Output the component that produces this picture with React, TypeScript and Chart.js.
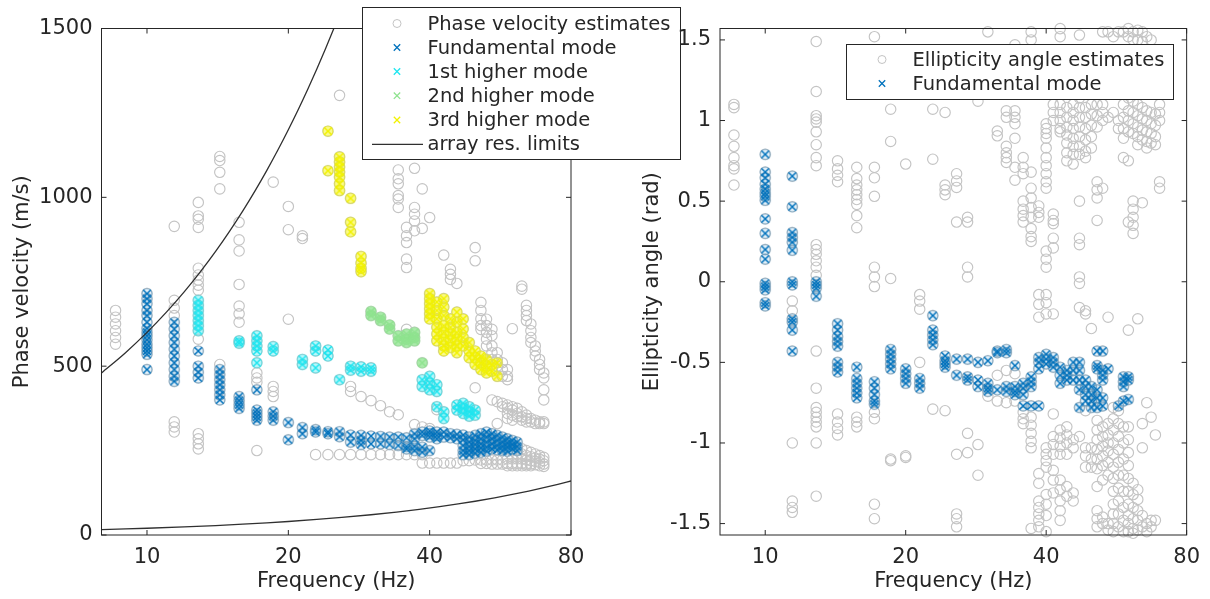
import React, { useEffect, useRef } from 'react';
import { Chart, registerables } from 'chart.js';

Chart.register(...registerables);

// ---------------- data ----------------
const freqTicks = [10, 20, 40, 80];
const freqRange = [8, 80];
const velocityTicks = [0, 500, 1000, 1500];
const velocityRange = [0, 1500];
const ellipticityTicks = [-1.5, -1, -0.5, 0, 0.5, 1, 1.5];
const ellipticityRange = [-1.5708, 1.5708];

type Column = [number, number[]];

// phase velocity estimates (m/s) not assigned to a mode, per frequency (Hz)
const pvOther: Column[] = [
  [8.57, [665, 645, 625, 605, 585, 565]],
  [11.43, [914, 695, 672, 650, 335, 320, 305]],
  [12.86, [985, 945, 935, 911, 790, 770, 755, 740, 725, 580, 300, 285, 270, 255]],
  [14.29, [1121, 1109, 1074, 1025, 505]],
  [15.71, [926, 874, 841, 742, 678, 655, 630]],
  [17.14, [480, 465, 452, 250]],
  [18.57, [1045, 440, 425, 410]],
  [20, [973, 904, 639]],
  [21.43, [886, 878]],
  [22.86, [238]],
  [24.29, [238]],
  [25.71, [1302, 238]],
  [27.14, [440, 425, 238]],
  [28.57, [410, 238]],
  [30, [398, 238]],
  [31.43, [383, 238]],
  [32.86, [365, 238]],
  [34.29, [1081, 1055, 1040, 1005, 995, 970, 356, 238]],
  [35.71, [911, 886, 866, 817, 792, 609, 238]],
  [37.14, [1086, 970, 950, 930, 901, 327, 238]],
  [38.57, [1025, 908, 320, 238, 213]],
  [40, [940, 315, 213]],
  [41.43, [371, 213]],
  [42.86, [829, 213]],
  [44.29, [787, 772, 757, 213]],
  [45.71, [745, 213]],
  [47.14, [220]],
  [48.57, [220]],
  [50, [851, 812, 436, 222]],
  [51.43, [689, 665, 640, 620, 609, 222, 212]],
  [52.86, [639, 620, 600, 580, 560, 222, 212]],
  [54.29, [609, 590, 560, 540, 520, 400, 222, 210]],
  [55.71, [540, 520, 500, 395, 330, 222, 210]],
  [57.14, [510, 490, 470, 390, 380, 222, 210]],
  [58.57, [490, 470, 460, 385, 375, 360, 345, 225, 212, 205]],
  [60, [611, 380, 370, 355, 340, 225, 212, 205]],
  [61.43, [375, 360, 350, 260, 240, 225, 212, 205]],
  [62.86, [737, 728, 365, 350, 340, 255, 240, 225, 212, 205]],
  [64.29, [680, 665, 650, 635, 355, 345, 335, 250, 235, 222, 210, 205]],
  [65.71, [625, 605, 585, 570, 345, 335, 245, 232, 220, 210, 205]],
  [67.14, [560, 545, 530, 340, 330, 240, 228, 218, 208]],
  [68.57, [520, 505, 490, 335, 330, 235, 225, 215, 205]],
  [70, [480, 465, 430, 400, 335, 330, 230, 220, 210, 203]],
];

const pvFundamental: Column[] = [
  [10, [715, 700, 685, 665, 650, 630, 612, 600, 590, 578, 565, 555, 545, 535, 490]],
  [11.43, [630, 610, 590, 570, 550, 530, 510, 490, 470, 455]],
  [12.86, [545, 500, 482, 465]],
  [14.29, [490, 475, 460, 445, 430, 415, 400]],
  [15.71, [410, 398, 386, 375]],
  [17.14, [430, 370, 360, 350, 340]],
  [18.57, [365, 352, 340]],
  [20, [333, 282]],
  [21.43, [318, 300]],
  [22.86, [312, 305]],
  [24.29, [306, 300]],
  [25.71, [306, 291]],
  [27.14, [296, 275]],
  [28.57, [295, 280, 268]],
  [30, [293, 270]],
  [31.43, [292, 270]],
  [32.86, [290, 268]],
  [34.29, [290, 265]],
  [35.71, [288, 262, 255]],
  [37.14, [300, 285, 262, 250]],
  [38.57, [305, 295, 260, 245]],
  [40, [308, 300, 290, 250]],
  [41.43, [305, 295, 285]],
  [42.86, [305, 290]],
  [44.29, [300, 288]],
  [45.71, [298, 285]],
  [47.14, [296, 282, 265, 250, 238]],
  [48.57, [290, 275, 262, 250, 238]],
  [50, [295, 280, 268, 255, 242]],
  [51.43, [300, 285, 270, 258, 245]],
  [52.86, [305, 290, 275, 260, 248]],
  [54.29, [300, 285, 270, 255]],
  [55.71, [295, 280, 265, 252]],
  [57.14, [290, 275, 262, 250]],
  [58.57, [285, 272, 260, 248]],
  [60, [280, 268, 255]],
  [61.43, [275, 262, 250]],
];

const pvFirstHigher: Column[] = [
  [12.86, [695, 680, 665, 650, 635, 620, 605]],
  [15.71, [575, 568]],
  [17.14, [590, 575, 560, 545, 510]],
  [18.57, [558, 545]],
  [21.43, [520, 505]],
  [22.86, [560, 545, 495]],
  [24.29, [548, 530]],
  [25.71, [460]],
  [27.14, [500, 488]],
  [28.57, [498, 485]],
  [30, [495, 485]],
  [38.57, [460, 440]],
  [40, [470, 450, 430]],
  [41.43, [445, 425, 380]],
  [42.86, [365, 345]],
  [45.71, [385, 370]],
  [47.14, [390, 375, 360]],
  [48.57, [380, 365, 352]],
  [50, [370, 355]],
];

const pvSecondHigher: Column[] = [
  [30, [662, 650]],
  [31.43, [645, 635]],
  [32.86, [622, 610]],
  [34.29, [590, 575]],
  [35.71, [595, 580, 570]],
  [37.14, [600, 585, 575]],
  [38.57, [510]],
];

const pvThirdHigher: Column[] = [
  [24.29, [1196, 1079]],
  [25.71, [1120, 1105, 1090, 1075, 1060, 1040, 1020]],
  [27.14, [997, 926, 898]],
  [28.57, [825, 805, 790, 780]],
  [40, [715, 700, 685, 670, 655, 640]],
  [41.43, [690, 665, 640, 615, 595, 575]],
  [42.86, [700, 675, 650, 620, 600, 580, 560, 545]],
  [44.29, [640, 615, 595, 575, 555]],
  [45.71, [660, 630, 600, 580, 560, 540]],
  [47.14, [640, 610, 585, 560]],
  [48.57, [570, 545, 525]],
  [50, [545, 525, 505]],
  [51.43, [530, 510, 490]],
  [52.86, [520, 500, 480]],
  [54.29, [505, 485]],
  [55.71, [510, 470]],
];

// array resolution limits (m/s)
const limitUpperFreq = [8, 9, 10, 11, 12, 13, 14, 15, 16, 17, 18, 19, 20, 21, 22, 23, 24, 25, 26];
const limitUpperVel = [480, 540, 600, 660, 720, 780, 840, 900, 960, 1020, 1080, 1140, 1200, 1260, 1320, 1380, 1440, 1500, 1560];
const limitLowerFreq = [8, 9, 10, 12, 14, 16, 18, 20, 23, 26, 30, 34, 38, 42, 46, 50, 55, 60, 65, 70, 75, 80];
const limitLowerVel = [16, 18, 20, 24, 28, 32, 36, 40, 46, 52, 60, 68, 76, 84, 92, 100, 110, 120, 130, 140, 150, 160];

// ellipticity angle estimates (rad)
const ellOther: Column[] = [
  [8.57, [1.1, 1.08, 0.91, 0.84, 0.77, 0.72, 0.7, 0.6]],
  [11.43, [-0.12, -0.18, -1.0, -1.36, -1.4, -1.43]],
  [12.86, [1.49, 1.18, 1.03, 1.01, 0.99, 0.93, 0.85, 0.77, 0.72, 0.23, 0.2, 0.17, 0.13, 0.09, 0.04, -0.43, -0.66, -0.78, -0.81, -0.84, -0.87, -0.9, -1.0, -1.33]],
  [14.29, [0.75, 0.7, 0.66, 0.62, -0.82, -0.87, -0.91, -0.95]],
  [15.71, [0.71, 0.64, 0.6, 0.57, 0.54, 0.51, 0.48, 0.41, 0.335, -0.84, -0.87, -0.9]],
  [17.14, [1.52, 0.71, 0.645, 0.53, 0.09, 0.03, -0.03, -0.81, -0.85, -1.38, -1.47]],
  [18.57, [1.07, 0.87, 0.02, -1.1, -1.11]],
  [20, [0.73, -1.08, -1.09]],
  [21.43, [-0.08, -0.12, -0.17, -0.5]],
  [22.86, [1.07, 0.76, -0.79]],
  [24.29, [1.05, 0.6, 0.57, 0.54, -0.8]],
  [25.71, [0.67, 0.625, 0.585, 0.37, -1.07, -1.44, -1.47, -1.52]],
  [27.14, [0.4, 0.37, 0.09, 0.03, -0.94, -1.06]],
  [28.57, [1.12, -1.01, -1.2]],
  [30, [1.55, -0.71]],
  [31.43, [0.935, 0.905, -0.58, -0.74]],
  [32.86, [1.06, 1.02, 0.84, 0.8, 0.77, 0.74, -0.55, -0.75]],
  [34.29, [1.47, 1.06, 1.02, 0.98, 0.89, 0.71, 0.63, -0.57, -0.74]],
  [35.71, [0.77, 0.71, 0.67, 0.5, 0.45, 0.41, 0.37, -0.81, -0.85, -0.88]],
  [37.14, [1.55, 1.5, 0.68, 0.58, 0.52, 0.46, 0.4, 0.33, 0.28, 0.25, -0.84, -0.89, -0.94, -0.99, -1.03, -1.53]],
  [38.57, [0.47, 0.43, 0.4, -0.08, -0.14, -0.22, -1.19, -1.25, -1.36, -1.4, -1.44, -1.48, -1.52]],
  [40, [0.98, 0.95, 0.92, 0.89, 0.83, 0.77, 0.72, 0.67, 0.62, 0.58, 0.19, 0.14, 0.09, -0.08, -0.13, -0.2, -1.03, -1.07, -1.11, -1.15, -1.32, -1.38, -1.45, -1.55]],
  [41.43, [1.1, 1.05, 1.0, 0.42, 0.38, 0.36, 0.27, 0.21, -0.2, -0.82, -0.96, -1.01, -1.07, -1.17, -1.23, -1.31]],
  [42.86, [1.57, 1.52, 1.1, 1.05, 1.0, 0.95, 0.93, -0.92, -0.97, -1.02, -1.07, -1.23, -1.29, -1.36, -1.42, -1.48]],
  [44.29, [1.08, 1.02, 0.96, 0.91, 0.86, 0.8, 0.75, -0.9, -0.95, -1.0, -1.07, -1.27, -1.33]],
  [45.71, [1.1, 1.05, 1.0, 0.95, 0.89, 0.84, 0.79, 0.73, -0.98, -1.03, -1.31, -1.36]],
  [47.14, [1.53, 1.14, 1.08, 1.02, 0.96, 0.9, 0.84, 0.79, 0.5, 0.27, 0.23, 0.03, -0.01, -0.16, -0.96]],
  [48.57, [1.08, 1.02, 0.95, 0.88, 0.81, 0.77, -0.18, -0.2, -0.8, -1.03, -1.08, -1.15]],
  [50, [1.1, 1.04, 0.97, 0.9, 0.83, -0.29, -1.03, -1.1, -1.15]],
  [51.43, [1.1, 1.03, 0.96, 0.62, 0.57, 0.52, 0.38, -0.86, -0.92, -0.98, -1.04, -1.1, -1.16, -1.27, -1.42, -1.47, -1.52]],
  [52.86, [1.55, 1.1, 1.05, 1.0, 0.58, -0.9, -0.96, -1.02, -1.08, -1.14, -1.23, -1.46, -1.5]],
  [54.29, [1.55, 1.02, -0.22, -0.88, -0.95, -1.0, -1.05, -1.12, -1.2, -1.5, -1.54]],
  [55.71, [1.52, 1.05, -0.78, -0.85, -0.92, -1.0, -1.07, -1.15, -1.22, -1.3, -1.38, -1.44, -1.5, -1.55]],
  [57.14, [1.55, 1.0, 0.95, -0.8, -0.88, -0.96, -1.04, -1.12, -1.2, -1.28, -1.36, -1.44, -1.52]],
  [58.57, [1.55, 1.1, 1.02, 0.95, 0.89, 0.77, -0.9, -1.0, -1.1, -1.2, -1.3, -1.4, -1.48, -1.55]],
  [60, [1.57, 1.52, 1.14, 1.06, 1.0, 0.93, 0.75, 0.37, -0.3, -0.9, -0.98, -1.06, -1.14, -1.22, -1.3, -1.38, -1.45, -1.5, -1.55]],
  [61.43, [1.55, 1.5, 1.12, 1.05, 0.98, 0.92, 0.5, 0.45, 0.4, 0.35, 0.3, -1.25, -1.32, -1.4, -1.47, -1.53, -1.56]],
  [62.86, [1.56, 1.5, 1.1, 1.03, 0.96, 0.9, 0.85, -0.23, -1.29, -1.35, -1.42, -1.48, -1.54]],
  [64.29, [1.55, 1.49, 1.08, 1.01, 0.94, 0.88, 0.49, -0.88, -1.03, -1.45, -1.52]],
  [65.71, [1.52, 1.06, 1.0, 0.93, 0.87, 0.83, -0.75, -1.5, -1.55]],
  [67.14, [1.5, 1.05, 0.98, 0.92, 0.86, -0.84, -1.48, -1.52]],
  [68.57, [1.04, 0.97, 0.9, 0.85, -0.95, -1.48]],
  [70, [1.1, 1.05, 1.0, 0.62, 0.58]],
];

const ellFundamental: Column[] = [
  [10, [0.79, 0.68, 0.645, 0.605, 0.575, 0.55, 0.53, 0.505, 0.39, 0.3, 0.2, 0.14, -0.01, -0.03, -0.05, -0.13, -0.15]],
  [11.43, [0.655, 0.465, 0.305, 0.275, 0.245, 0.195, 0.0, -0.02, -0.23, -0.25, -0.3, -0.43]],
  [12.86, [0.0, -0.02, -0.04, -0.09]],
  [14.29, [-0.26, -0.3, -0.34, -0.37, -0.4, -0.5, -0.53, -0.56]],
  [15.71, [-0.53, -0.6, -0.63, -0.66, -0.69, -0.72]],
  [17.14, [-0.62, -0.66, -0.7, -0.74, -0.76]],
  [18.57, [-0.42, -0.45, -0.48, -0.51, -0.54]],
  [20, [-0.54, -0.57, -0.6, -0.63]],
  [21.43, [-0.6, -0.63, -0.66]],
  [22.86, [-0.21, -0.3, -0.33, -0.36, -0.39]],
  [24.29, [-0.46, -0.49, -0.51, -0.53]],
  [25.71, [-0.48, -0.58]],
  [27.14, [-0.48, -0.59, -0.61]],
  [28.57, [-0.5, -0.61, -0.65]],
  [30, [-0.49, -0.63, -0.66, -0.68]],
  [31.43, [-0.43, -0.44, -0.67]],
  [32.86, [-0.42, -0.44, -0.65, -0.68]],
  [34.29, [-0.52, -0.65, -0.68, -0.7]],
  [35.71, [-0.63, -0.66, -0.7, -0.77]],
  [37.14, [-0.59, -0.62, -0.65, -0.77]],
  [38.57, [-0.47, -0.5, -0.54, -0.77]],
  [40, [-0.45, -0.48, -0.51]],
  [41.43, [-0.47, -0.5, -0.53]],
  [42.86, [-0.53, -0.58, -0.63]],
  [44.29, [-0.55, -0.58, -0.61]],
  [45.71, [-0.5, -0.55, -0.61]],
  [47.14, [-0.5, -0.55, -0.61, -0.67, -0.78]],
  [48.57, [-0.61, -0.65, -0.7, -0.74]],
  [50, [-0.65, -0.7, -0.74, -0.78]],
  [51.43, [-0.43, -0.52, -0.54, -0.67, -0.72, -0.78]],
  [52.86, [-0.43, -0.55, -0.58, -0.61, -0.72, -0.77]],
  [54.29, [-0.54]],
  [57.14, [-0.77]],
  [58.57, [-0.59, -0.62, -0.65, -0.74]],
  [60, [-0.59, -0.61, -0.73]],
];

// ---------------- styling ----------------
const FONT = '"DejaVu Sans", "Liberation Sans", sans-serif';
const AXIS_COLOR = '#262626';
const EST_GRAY = '#c4c4c4';
const BLUE = '#0072BD';
const CYAN = '#1fe6f0';
const GREEN = '#8fe38f';
const YELLOW = '#f2f200';

const toPoints = (cols: Column[]) => cols.flatMap(([f, vs]) => vs.map((v) => ({ x: f, y: v })));

function makeModeMarker(color: string, ringAlpha: number, fillAlpha: number) {
  const c = document.createElement('canvas');
  c.width = 16;
  c.height = 16;
  const g = c.getContext('2d')!;
  g.beginPath();
  g.arc(8, 8, 5, 0, Math.PI * 2);
  g.globalAlpha = fillAlpha;
  g.fillStyle = color;
  g.fill();
  g.globalAlpha = ringAlpha;
  g.strokeStyle = color;
  g.lineWidth = 1.1;
  g.stroke();
  g.globalAlpha = 1;
  g.lineWidth = 1.5;
  g.beginPath();
  g.moveTo(4.2, 4.2);
  g.lineTo(11.8, 11.8);
  g.moveTo(11.8, 4.2);
  g.lineTo(4.2, 11.8);
  g.stroke();
  return c;
}

type LegendEntry = { label: string; kind: 'circle' | 'cross' | 'line'; color: string };

function legendPlugin(
  box: [number, number, number, number],
  entries: LegendEntry[],
  rowY: number[],
  symX: number,
  textX: number,
  lineX: [number, number]
) {
  return {
    id: 'customLegend',
    afterDraw(chart: any) {
      const ctx: CanvasRenderingContext2D = chart.ctx;
      ctx.save();
      const [x1, y1, x2, y2] = box;
      ctx.fillStyle = '#ffffff';
      ctx.fillRect(x1, y1, x2 - x1, y2 - y1);
      ctx.strokeStyle = AXIS_COLOR;
      ctx.lineWidth = 1;
      ctx.strokeRect(x1, y1, x2 - x1, y2 - y1);
      ctx.font = `19.5px ${FONT}`;
      ctx.textBaseline = 'middle';
      ctx.textAlign = 'left';
      entries.forEach((e, i) => {
        const y = rowY[i];
        ctx.strokeStyle = e.color;
        if (e.kind === 'circle') {
          ctx.lineWidth = 1;
          ctx.beginPath();
          ctx.arc(symX, y, 4, 0, Math.PI * 2);
          ctx.stroke();
        } else if (e.kind === 'cross') {
          ctx.lineWidth = 1.3;
          ctx.beginPath();
          ctx.moveTo(symX - 3.2, y - 3.2);
          ctx.lineTo(symX + 3.2, y + 3.2);
          ctx.moveTo(symX + 3.2, y - 3.2);
          ctx.lineTo(symX - 3.2, y + 3.2);
          ctx.stroke();
        } else {
          ctx.lineWidth = 1.3;
          ctx.beginPath();
          ctx.moveTo(lineX[0], y);
          ctx.lineTo(lineX[1], y);
          ctx.stroke();
        }
        ctx.fillStyle = AXIS_COLOR;
        ctx.fillText(e.label, textX, y + 1);
      });
      ctx.restore();
    },
  };
}

const boxPlugin = {
  id: 'matlabBox',
  afterDatasetsDraw(chart: any) {
    const ctx: CanvasRenderingContext2D = chart.ctx;
    const a = chart.chartArea;
    const xs = chart.scales.x;
    const ys = chart.scales.y;
    const tl = 5;
    ctx.save();
    ctx.strokeStyle = AXIS_COLOR;
    ctx.lineWidth = 1;
    ctx.strokeRect(a.left, a.top, a.right - a.left, a.bottom - a.top);
    ctx.beginPath();
    xs.ticks.forEach((t: any) => {
      const px = xs.getPixelForValue(t.value);
      ctx.moveTo(px, a.bottom);
      ctx.lineTo(px, a.bottom - tl);
      ctx.moveTo(px, a.top);
      ctx.lineTo(px, a.top + tl);
    });
    ys.ticks.forEach((t: any) => {
      const py = ys.getPixelForValue(t.value);
      ctx.moveTo(a.left, py);
      ctx.lineTo(a.left + tl, py);
      ctx.moveTo(a.right, py);
      ctx.lineTo(a.right - tl, py);
    });
    ctx.stroke();
    ctx.restore();
  },
};

const tickFont = { family: FONT, size: 21 };

function xScale() {
  return {
    type: 'logarithmic' as const,
    min: freqRange[0],
    max: freqRange[1],
    afterFit: (s: any) => {
      s.height = 64;
    },
    afterBuildTicks: (s: any) => {
      s.ticks = freqTicks.map((v) => ({ value: v }));
    },
    grid: { display: false, drawTicks: false },
    border: { display: false },
    ticks: {
      autoSkip: false,
      maxRotation: 0,
      padding: 10,
      color: AXIS_COLOR,
      font: tickFont,
      callback: (v: any) => String(v),
    },
    title: {
      display: true,
      text: 'Frequency (Hz)',
      color: AXIS_COLOR,
      font: tickFont,
      padding: { top: 0, bottom: 5 },
    },
  };
}

function yScale(range: number[], ticks: number[], width: number, title: string, titlePad: number) {
  return {
    type: 'linear' as const,
    min: range[0],
    max: range[1],
    afterFit: (s: any) => {
      s.width = width;
    },
    afterBuildTicks: (s: any) => {
      s.ticks = ticks.map((v) => ({ value: v }));
    },
    grid: { display: false, drawTicks: false },
    border: { display: false },
    ticks: {
      padding: 9,
      color: AXIS_COLOR,
      font: tickFont,
      callback: (v: any) => String(v),
    },
    title: {
      display: true,
      text: title,
      color: AXIS_COLOR,
      font: tickFont,
      padding: { top: titlePad, bottom: 0 },
    },
  };
}

const estimateStyle = {
  pointStyle: 'circle' as const,
  pointRadius: 5.2,
  pointBorderWidth: 1.15,
  pointBorderColor: EST_GRAY,
  pointBackgroundColor: 'rgba(0,0,0,0)',
  showLine: false,
  clip: false as const,
};

function modeDataset(label: string, cols: Column[], marker: HTMLCanvasElement, order: number) {
  return {
    label,
    data: toPoints(cols),
    pointStyle: marker,
    pointRadius: 5,
    showLine: false,
    clip: false as const,
    order,
  };
}

function limitDataset(freqs: number[], vels: number[]) {
  return {
    label: 'array res. limits',
    data: freqs.map((f, i) => ({ x: f, y: vels[i] })),
    showLine: true,
    pointRadius: 0,
    borderColor: '#303030',
    borderWidth: 1.3,
    cubicInterpolationMode: 'monotone' as const,
    order: 0,
  };
}

export default function App() {
  const leftRef = useRef<HTMLCanvasElement>(null);
  const rightRef = useRef<HTMLCanvasElement>(null);

  useEffect(() => {
    document.body.style.margin = '0';
    const blueMarker = makeModeMarker(BLUE, 0.35, 0.1);
    const cyanMarker = makeModeMarker(CYAN, 0.55, 0.3);
    const greenMarker = makeModeMarker(GREEN, 0.8, 0.75);
    const yellowMarker = makeModeMarker(YELLOW, 0.6, 0.45);

    const left = new Chart(leftRef.current!, {
      type: 'scatter',
      data: {
        datasets: [
          {
            label: 'Phase velocity estimates',
            data: [
              ...toPoints(pvOther),
              ...toPoints(pvFundamental),
              ...toPoints(pvFirstHigher),
              ...toPoints(pvSecondHigher),
              ...toPoints(pvThirdHigher),
            ],
            ...estimateStyle,
            order: 10,
          },
          modeDataset('3rd higher mode', pvThirdHigher, yellowMarker, 4),
          modeDataset('2nd higher mode', pvSecondHigher, greenMarker, 3),
          modeDataset('1st higher mode', pvFirstHigher, cyanMarker, 2),
          modeDataset('Fundamental mode', pvFundamental, blueMarker, 1),
          limitDataset(limitUpperFreq, limitUpperVel),
          limitDataset(limitLowerFreq, limitLowerVel),
        ] as any,
      },
      options: {
        responsive: false,
        animation: false,
        events: [],
        layout: { padding: { left: 0, top: 28.5, right: 129, bottom: 0 } },
        plugins: { legend: { display: false }, tooltip: { enabled: false } },
        scales: {
          x: xScale(),
          y: yScale(velocityRange, velocityTicks, 101.5, 'Phase velocity (m/s)', 9.5),
        } as any,
      },
      plugins: [
        boxPlugin,
        legendPlugin(
          [362.5, 7.5, 680.5, 159.5],
          [
            { label: 'Phase velocity estimates', kind: 'circle', color: EST_GRAY },
            { label: 'Fundamental mode', kind: 'cross', color: BLUE },
            { label: '1st higher mode', kind: 'cross', color: CYAN },
            { label: '2nd higher mode', kind: 'cross', color: GREEN },
            { label: '3rd higher mode', kind: 'cross', color: YELLOW },
            { label: 'array res. limits', kind: 'line', color: '#303030' },
          ],
          [23.5, 47.5, 71.5, 95.7, 120, 144.3],
          397,
          427.5,
          [372, 423]
        ),
      ],
    });

    const right = new Chart(rightRef.current!, {
      type: 'scatter',
      data: {
        datasets: [
          {
            label: 'Ellipticity angle estimates',
            data: [...toPoints(ellOther), ...toPoints(ellFundamental)],
            ...estimateStyle,
            order: 10,
          },
          modeDataset('Fundamental mode', ellFundamental, blueMarker, 1),
        ] as any,
      },
      options: {
        responsive: false,
        animation: false,
        events: [],
        layout: { padding: { left: 0, top: 28.5, right: 22, bottom: 0 } },
        plugins: { legend: { display: false }, tooltip: { enabled: false } },
        scales: {
          x: xScale(),
          y: yScale(ellipticityRange, ellipticityTicks, 110, 'Ellipticity angle (rad)', 30),
        } as any,
      },
      plugins: [
        boxPlugin,
        legendPlugin(
          [236.5, 44.5, 563.5, 99.5],
          [
            { label: 'Ellipticity angle estimates', kind: 'circle', color: EST_GRAY },
            { label: 'Fundamental mode', kind: 'cross', color: BLUE },
          ],
          [59.5, 83.5],
          272,
          302.5,
          [0, 0]
        ),
      ],
    });

    return () => {
      left.destroy();
      right.destroy();
    };
  }, []);

  return (
    <div style={{ position: 'relative', width: 1210, height: 599, background: '#ffffff', overflow: 'hidden' }}>
      <canvas ref={leftRef} width={700} height={599} style={{ position: 'absolute', left: 0, top: 0 }} />
      <canvas ref={rightRef} width={600} height={599} style={{ position: 'absolute', left: 610, top: 0 }} />
    </div>
  );
}
